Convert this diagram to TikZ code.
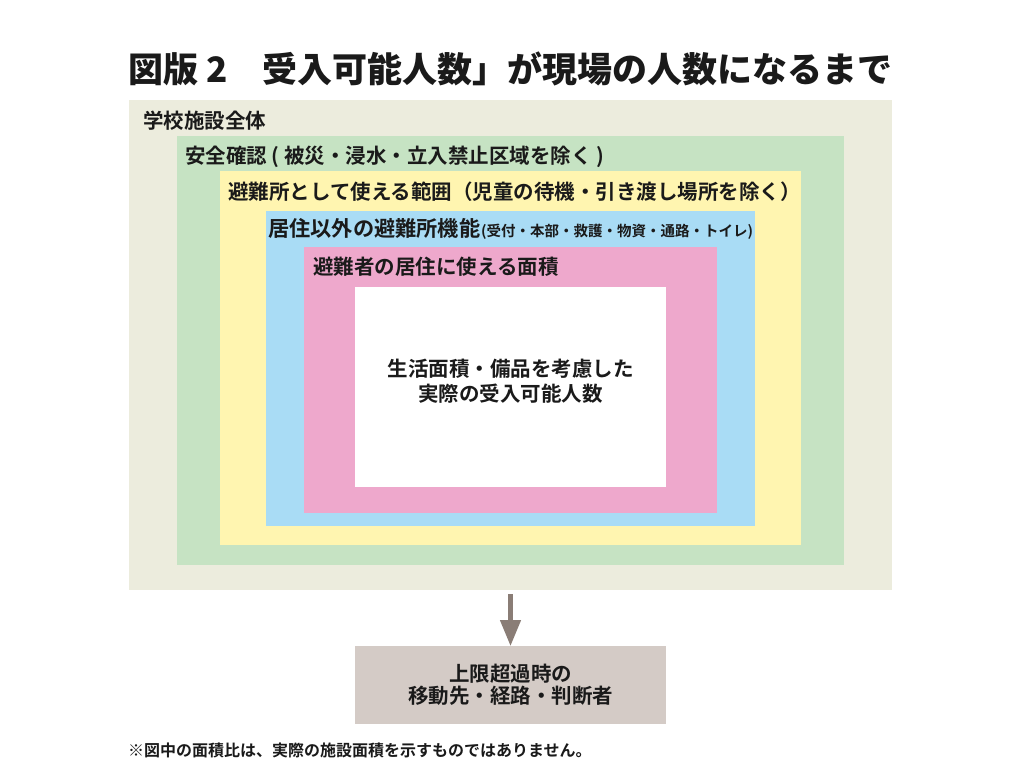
\documentclass[tikz,border=0pt]{standalone}
\usepackage{fontspec}
\setmainfont{Noto Sans CJK JP}
\newfontfamily\cjkmed{Noto Sans CJK JP Medium}
\newfontfamily\cjkbold{Noto Sans CJK JP Bold}
\newfontfamily\cjkblack{Noto Sans CJK JP Black}
\usetikzlibrary{arrows.meta}
\definecolor{beigec}{HTML}{ECECDD}
\definecolor{greenc}{HTML}{C6E3C3}
\definecolor{yellowc}{HTML}{FFF5B0}
\definecolor{bluec}{HTML}{A9DCF5}
\definecolor{pinkc}{HTML}{EEA8CC}
\definecolor{grayc}{HTML}{D4CBC6}
\definecolor{arrowc}{HTML}{8A7D76}
\definecolor{txt}{HTML}{1A1A1A}
\tikzset{
  area/.style={draw=none, inner sep=0pt, outer sep=0pt, anchor=north west},
  lab/.style={anchor=west, inner sep=0pt, text=txt, font=\cjkbold\fontsize{20.5pt}{24pt}\selectfont},
  flowarrow/.style={draw=arrowc, line width=4.5pt, -{Triangle[width=20pt,length=26pt]}}
}
\begin{document}
\begin{tikzpicture}[x=1pt,y=-1pt]
\useasboundingbox[fill=white] (0,0) rectangle (1024,768);
% title
\node[anchor=west, inner sep=0pt, text=txt, font=\cjkblack\fontsize{35pt}{40pt}\selectfont] (title) at (128,69) {図版 2　受入可能人数」が現場の人数になるまで};
% nested areas
\node[area, fill=beigec, minimum width=763pt, minimum height=490pt] (school) at (129,100) {};
\node[area, fill=greenc, minimum width=667pt, minimum height=429pt] (safe) at (177,136) {};
\node[area, fill=yellowc, minimum width=581pt, minimum height=374pt] (usable) at (220,171) {};
\node[area, fill=bluec, minimum width=489pt, minimum height=315pt] (func) at (266,211) {};
\node[area, fill=pinkc, minimum width=413pt, minimum height=266pt] (living) at (304,247) {};
\node[area, fill=white, minimum width=311pt, minimum height=200pt] (actual) at (355,287) {};
% labels
\node[lab] (l1) at (143,121) {学校施設全体};
\node[lab] (l2) at (185,157) {安全確認 ( 被災・浸水・立入禁止区域を除く )};
\node[lab] (l3) at (228,192) {避難所として使える範囲（児童の待機・引き渡し場所を除く）};
\node[lab] (l4) at (268,229) {{\fontsize{21.2pt}{24pt}\selectfont 居住以外の避難所機能}{\fontsize{14.5pt}{18pt}\selectfont\hspace{1pt}(受付・本部・救護・物資・通路・トイレ)}};
\node[lab] (l5) at (313,267) {避難者の居住に使える面積};
\node[align=center, inner sep=0pt, text=txt, font=\cjkbold\fontsize{20.5pt}{25pt}\selectfont] (l6) at ([yshift=6pt]actual.center) {生活面積・備品を考慮した\\実際の受入可能人数};
% bottom box
\node[area, fill=grayc, minimum width=311pt, minimum height=78pt] (over) at (355,646) {};
\node[align=center, inner sep=0pt, text=txt, font=\cjkbold\fontsize{20.5pt}{21.5pt}\selectfont] (l7) at (over.center) {上限超過時の\\移動先・経路・判断者};
% arrow
\draw[flowarrow, shorten <=4pt] (school.south) -- (over.north);
% footnote
\node[anchor=west, inner sep=0pt, text=txt, font=\cjkbold\fontsize{16pt}{18pt}\selectfont] (note) at (128,750) {※図中の面積比は、実際の施設面積を示すものではありません。};
\end{tikzpicture}
\end{document}
